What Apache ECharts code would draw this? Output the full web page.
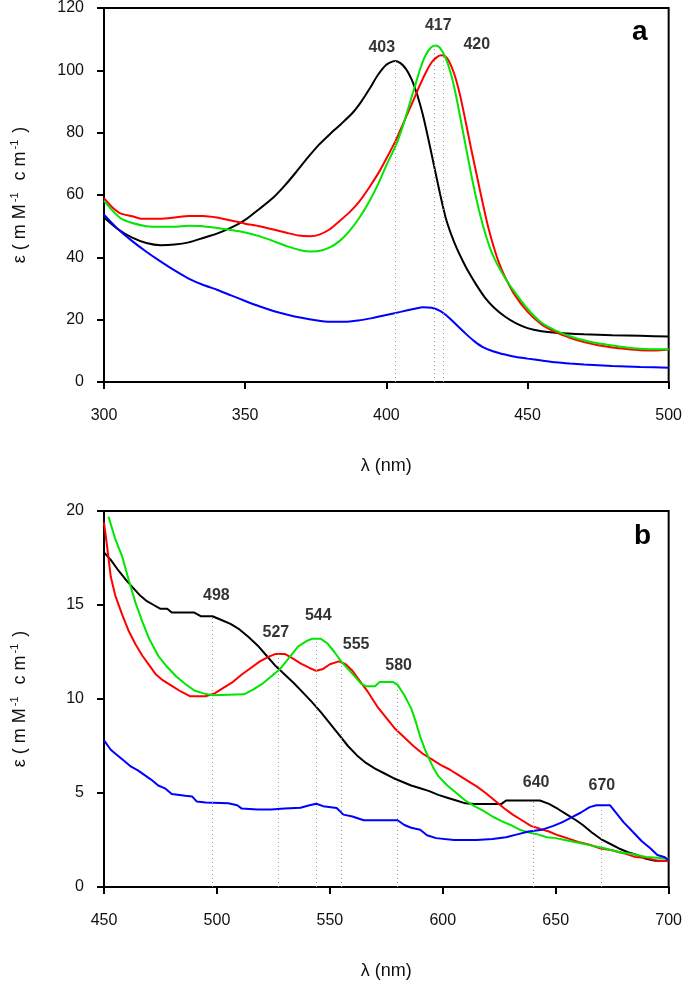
<!DOCTYPE html>
<html>
<head>
<meta charset="utf-8">
<script src="https://cdn.jsdelivr.net/npm/echarts@6/dist/echarts.min.js"></script>
<style>html,body{margin:0;padding:0;background:#fff}#c{width:685px;height:981px}</style>
</head>
<body>
<div id="c"></div>
<script>
// ---- Panel a (300-500 nm) ----
const topBlack = [[300,52.8],[305,49],[310,46.3],[315,44.6],[320,43.9],[325,44.1],[330,44.8],[335,46.2],[340,47.6],[345,49.5],[350,52],[355,55.5],[360,59.2],[364,63],[368,67.3],[372,71.8],[376,76],[380,79.5],[384,82.8],[388,86.3],[391,89.8],[394,94],[397,98.5],[400,101.8],[403,103],[405,102.3],[407,100.4],[409,97],[411,92],[413,85.5],[415,77.5],[417,69],[419,60.5],[421,52.8],[423,47.3],[425,42.8],[427,39],[429,35.5],[432,31],[435,27],[438,24],[442,21],[446,18.8],[450,17.3],[455,16.3],[460,15.8],[470,15.3],[480,15],[490,14.8],[500,14.6]];
const topRed = [[300,59],[303,56],[306,54],[310,53.2],[313,52.4],[320,52.4],[325,52.8],[330,53.3],[335,53.3],[340,52.8],[345,51.8],[350,50.8],[355,50],[360,48.9],[365,47.8],[369,47],[373,46.8],[376,47.2],[380,49],[383.4,51.6],[387,54.5],[390.4,57.9],[394,62.5],[397.5,67.5],[400.5,72.5],[403.4,77.6],[406,83],[409.3,89.8],[412,95.5],[414,99.3],[416,102.5],[417.6,104],[419.3,104.8],[420.5,104.7],[422,103.2],[424,99],[426,92.5],[428,84],[430,75],[432,66.5],[434,58],[436,50],[438,43.5],[440,38],[442,33.8],[445,28.6],[450,22.6],[455,18.5],[460,16],[465,14.2],[470,12.8],[475,11.8],[480,11.1],[485,10.6],[490,10.2],[495,10.1],[500,10.4]];
const topGreen = [[300,58.2],[303,55],[306,52.5],[310,51],[315,50],[320,49.8],[325,49.8],[330,50.1],[335,50],[340,49.4],[345,48.8],[350,48],[355,46.8],[360,45.2],[365,43.5],[370,42.2],[373,41.9],[376,42],[380,43.2],[383.4,45.2],[387,48.5],[390.4,52.6],[394,58],[397.5,64.3],[400,69.5],[403.4,76],[406,82.5],[408,88.5],[410,94.5],[412,100.5],[414,105],[416,107.5],[417.6,108],[419,107.2],[421,104],[423,98.5],[425,90.5],[427,81],[429,71.5],[431,62.5],[433,54.5],[435,47.8],[437,42.3],[439,38.3],[441,35],[443,32],[446,28.2],[450,23.5],[455,19],[460,16.5],[465,14.7],[470,13.4],[475,12.4],[480,11.7],[485,11.1],[490,10.7],[495,10.5],[500,10.5]];
const topBlue = [[300,53.7],[305,49],[310,45.2],[315,41.8],[320,38.7],[325,35.8],[330,33.2],[335,31.2],[340,29.6],[345,27.8],[350,26],[355,24.3],[360,22.8],[365,21.6],[370,20.6],[375,19.8],[380,19.3],[385,19.3],[390,19.7],[395,20.5],[400,21.5],[405,22.5],[410,23.5],[413,24],[416,23.8],[419,22.8],[422,20.8],[425,18.2],[428,15.6],[431,13.2],[434,11.3],[438,9.8],[442,8.8],[446,8],[450,7.5],[455,6.9],[460,6.3],[465,5.9],[470,5.6],[480,5.1],[490,4.8],[500,4.6]];
const topPeaks = [403, 417, 420];
const topPeakValues = [103, 108, 105];

// ---- Panel b (450-700 nm) ----
const botBlack = [[450,17.8],[453,17.4],[456,16.9],[460,16.3],[463,15.9],[466,15.5],[469,15.2],[472,15.0],[475,14.8],[478,14.8],[480,14.6],[490,14.6],[493,14.4],[498,14.4],[502,14.2],[506,14.0],[510,13.7],[514,13.3],[518,12.85],[522,12.3],[526,11.75],[530,11.3],[534,10.85],[538,10.35],[542,9.85],[546,9.3],[550,8.7],[554,8.1],[558,7.5],[562,7.0],[566,6.6],[570,6.3],[574,6.05],[578,5.8],[582,5.6],[586,5.4],[590,5.25],[594,5.1],[598,4.9],[602,4.75],[606,4.6],[610,4.45],[614,4.42],[626,4.42],[628,4.6],[643,4.6],[647,4.42],[651,4.15],[655,3.85],[659,3.55],[662,3.3],[666,2.9],[670,2.55],[674,2.3],[678,2.05],[682,1.85],[686,1.7],[690,1.5],[694,1.4],[700,1.4]];
const botRed = [[450,19.4],[451.5,18],[453,16.5],[455,15.5],[458,14.5],[461,13.6],[464,12.9],[467,12.3],[470,11.8],[473,11.3],[476,11.0],[480,10.7],[484,10.4],[488,10.15],[495,10.15],[499,10.3],[503,10.6],[507,10.9],[511,11.3],[515,11.65],[519,12.0],[523,12.25],[526,12.4],[530,12.4],[533,12.2],[537,11.9],[541,11.65],[544,11.5],[547,11.6],[550,11.85],[554,12.0],[557,11.85],[560,11.5],[563,11.0],[567,10.35],[571,9.6],[575,9.0],[579,8.4],[583,7.95],[587,7.5],[591,7.1],[595,6.8],[599,6.5],[603,6.25],[607,5.95],[611,5.65],[615,5.35],[619,5.0],[623,4.6],[627,4.2],[631,3.85],[635,3.55],[639,3.25],[643,3.1],[647,2.95],[651,2.75],[655,2.6],[660,2.4],[665,2.25],[670,2.05],[675,1.95],[680,1.8],[685,1.6],[690,1.55],[695,1.4],[700,1.38]];
const botGreen = [[452,19.7],[455,18.5],[458,17.6],[461,16.3],[464,15.1],[467,14.1],[470,13.2],[474,12.3],[478,11.7],[482,11.2],[486,10.8],[490,10.45],[494,10.3],[498,10.2],[512,10.25],[516,10.5],[520,10.8],[524,11.2],[528,11.6],[532,12.2],[536,12.8],[540,13.1],[542,13.2],[546,13.2],[549,12.95],[552,12.5],[555,12.0],[558,11.6],[561,11.2],[564,10.8],[566,10.68],[570,10.68],[572,10.9],[578,10.9],[580,10.75],[583,10.2],[586,9.5],[588,8.8],[590,8.0],[592,7.35],[594,6.8],[596,6.3],[598,5.9],[602,5.4],[606,5.0],[610,4.6],[614,4.3],[618,4.05],[622,3.75],[626,3.5],[630,3.3],[634,3.05],[638,2.9],[642,2.8],[646,2.65],[650,2.6],[654,2.5],[660,2.35],[666,2.2],[672,2.05],[678,1.85],[684,1.75],[690,1.6],[695,1.55],[700,1.5]];
const botBlue = [[450,7.8],[453,7.3],[456,7.0],[459,6.7],[462,6.4],[465,6.2],[468,5.95],[471,5.7],[474,5.4],[477,5.25],[480,4.95],[486,4.85],[489,4.82],[491,4.55],[495,4.5],[505,4.45],[509,4.35],[511,4.17],[518,4.12],[524,4.12],[530,4.17],[537,4.22],[541,4.35],[544,4.43],[547,4.3],[553,4.2],[556,3.85],[560,3.75],[565,3.55],[580,3.55],[583,3.3],[586,3.15],[590,3.05],[593,2.75],[597,2.6],[605,2.5],[615,2.5],[622,2.55],[628,2.65],[633,2.8],[638,2.95],[644,3.05],[649,3.25],[653,3.45],[657,3.7],[661,3.95],[665,4.25],[668,4.35],[674,4.35],[677,3.9],[680,3.45],[684,2.95],[688,2.45],[692,2.05],[695,1.7],[698,1.6],[700,1.42]];
const botPeaks = [498, 527, 544, 555, 580, 640, 670];
const botPeakValues = [14.4, 12.4, 13.2, 12.0, 10.9, 4.6, 4.35];

const topTicks = {min: 300, max: 500, interval: 50};
const topYTicks = {min: 0, max: 120, interval: 20};
const botTicks = {min: 450, max: 700, interval: 50};
const botYTicks = {min: 0, max: 20, interval: 5};

// label pixel offsets (style only)
const topLabelOffsets = [[-13,-13],[4,-20],[34,-10]];
const botLabelOffsets = [[4,-21],[-2,-21],[2,-23],[15,-17],[1,-16],[3,-18],[1,-20]];

const FONT = 'Liberation Sans, Arial, sans-serif';
const colors = {black:'#000000', red:'#ff0000', green:'#00e600', blue:'#0000ff'};

function xAxisCfg(idx, t) {
  return {
    type:'value', gridIndex: idx, min:t.min, max:t.max, interval:t.interval,
    name:'λ (nm)', nameLocation:'middle', nameGap:75,
    nameTextStyle:{fontFamily:FONT, fontSize:18, color:'#111'},
    axisLine:{lineStyle:{color:'#000', width:2}},
    axisTick:{inside:false, length:7, lineStyle:{color:'#000', width:2}},
    axisLabel:{margin:26, fontFamily:FONT, fontSize:16, color:'#111'},
    splitLine:{show:false}
  };
}
function yAxisCfg(idx, t) {
  return {
    type:'value', gridIndex: idx, min:t.min, max:t.max, interval:t.interval,
    name:'{n|ε ( m M}{s|-1}{n|  c m}{s|-1}{n| )}', nameLocation:'middle', nameGap:72, nameRotate:90,
    nameTextStyle:{fontFamily:FONT, fontSize:18, color:'#111',
      rich:{n:{fontFamily:FONT, fontSize:18, color:'#111'},
            s:{fontFamily:FONT, fontSize:11, color:'#111', padding:[0,2,12,2]}}},
    axisLine:{lineStyle:{color:'#000', width:2}},
    axisTick:{inside:false, length:7, lineStyle:{color:'#000', width:2}},
    axisLabel:{margin:20, fontFamily:FONT, fontSize:16, color:'#111'},
    splitLine:{show:false}
  };
}
function curve(name, data, color, xi, smooth) {
  return {type:'line', name, xAxisIndex:xi, yAxisIndex:xi, data, smooth: smooth ? 0.2 : false,
    showSymbol:false, symbol:'none', lineStyle:{color, width:2}, z:3, silent:true};
}
function peakSeries(xi, peaks, vals, offsets) {
  return {
    type:'scatter', xAxisIndex:xi, yAxisIndex:xi, symbolSize:0, z:5, silent:true,
    data: peaks.map((p,i)=>({value:[p, vals[i]], label:{offset:offsets[i]}})),
    label:{show:true, position:'inside', formatter:(p)=>String(p.value[0]),
      fontFamily:FONT, fontSize:16, fontWeight:'bold', color:'#000'},
    markLine:{silent:true, symbol:['none','none'], animation:false,
      label:{show:false},
      lineStyle:{type:[1,3], color:'#9a9a9a', width:1},
      data: peaks.map((p,i)=>[{coord:[p,0]},{coord:[p,vals[i]]}])}
  };
}

const chart = echarts.init(document.getElementById('c'), null, {renderer:'canvas'});
chart.setOption({
  animation:false,
  backgroundColor:'#fff',
  grid:[
    {left:104, top:5, width:565, height:377, show:true, borderColor:'#000', borderWidth:2, backgroundColor:'transparent'},
    {left:104, top:511, width:565, height:376, show:true, borderColor:'#000', borderWidth:2, backgroundColor:'transparent'}
  ],
  xAxis:[xAxisCfg(0, topTicks), xAxisCfg(1, botTicks)],
  yAxis:[yAxisCfg(0, topYTicks), yAxisCfg(1, botYTicks)],
  graphic:[
    {type:'text', left:632, top:18, style:{text:'a', font:'bold 28px '+FONT, fill:'#000'}},
    {type:'text', left:634, top:522, style:{text:'b', font:'bold 28px '+FONT, fill:'#000'}}
  ],
  series:[
    peakSeries(0, topPeaks, topPeakValues, topLabelOffsets),
    curve('black', topBlack, colors.black, 0, true),
    curve('red', topRed, colors.red, 0, true),
    curve('green', topGreen, colors.green, 0, true),
    curve('blue', topBlue, colors.blue, 0, true),
    peakSeries(1, botPeaks, botPeakValues, botLabelOffsets),
    curve('black', botBlack, colors.black, 1, false),
    curve('red', botRed, colors.red, 1, false),
    curve('green', botGreen, colors.green, 1, false),
    curve('blue', botBlue, colors.blue, 1, false)
  ]
});
</script>
</body>
</html>
